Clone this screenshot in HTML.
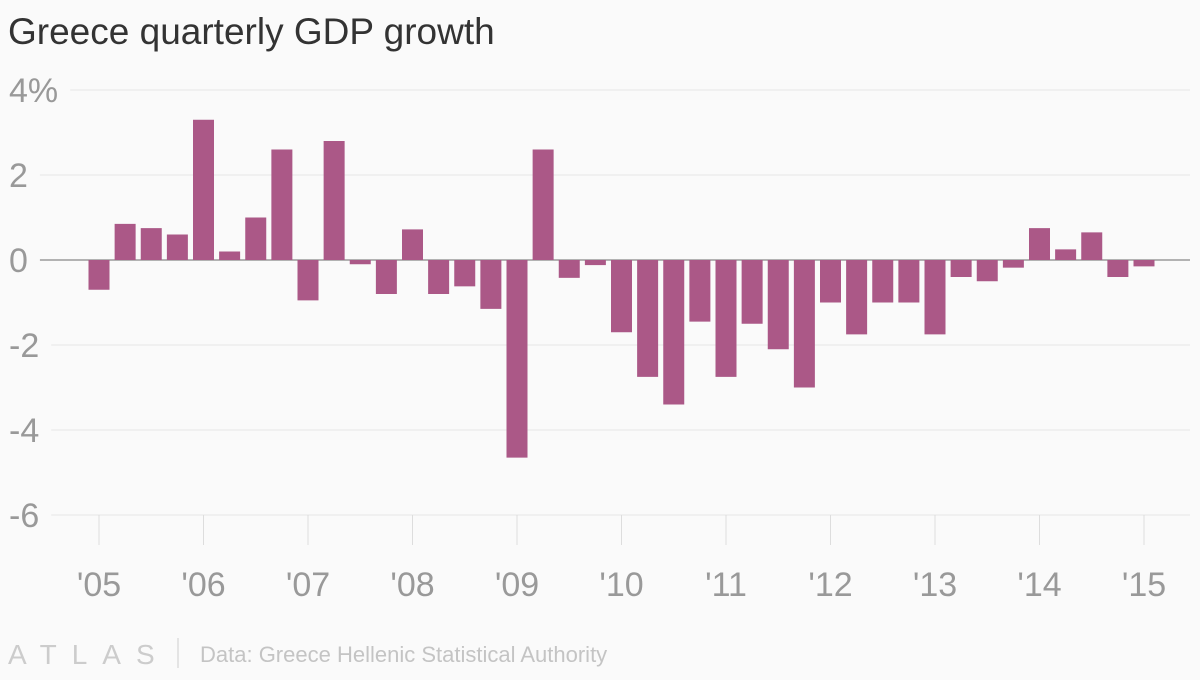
<!DOCTYPE html>
<html><head><meta charset="utf-8"><style>
body{margin:0;background:#fafafa;width:1200px;height:675px;overflow:hidden;font-family:"Liberation Sans",sans-serif}
</style></head><body>
<svg id="c" width="1200" height="675" xmlns="http://www.w3.org/2000/svg">
<text x="8" y="44" font-size="37" fill="#333">Greece quarterly GDP growth</text>
<g id="grid"></g><g id="bars"></g><g id="xaxis"></g>
<text x="8" y="664" font-size="28" fill="#ccc" letter-spacing="15">ATLAS</text>
<line x1="178" y1="638" x2="178" y2="668" stroke="#ddd" stroke-width="1.5"/>
<text x="200" y="662" font-size="22" fill="#c4c4c4">Data: Greece Hellenic Statistical Authority</text>
</svg>
<script>
const years=["'05","'06","'07","'08","'09","'10","'11","'12","'13","'14","'15"];
const yTicks=[4,2,0,-2,-4,-6];
const yTickLabels=["4%","2","0","-2","-4","-6"];
const values=[-0.7,0.85,0.75,0.6, 3.3,0.2,1.0,2.6, -0.95,2.8,-0.1,-0.8, 0.72,-0.8,-0.62,-1.15,
 -4.65,2.6,-0.42,-0.12, -1.7,-2.75,-3.4,-1.45, -2.75,-1.5,-2.1,-3.0, -1.0,-1.75,-1.0,-1.0,
 -1.75,-0.4,-0.5,-0.18, 0.75,0.25,0.65,-0.4, -0.15];
const NS="http://www.w3.org/2000/svg";
const y=v=>260-v*42.5;
const x=q=>99+q*26.125;
function mk(t,a,p){const e=document.createElementNS(NS,t);for(const k in a)e.setAttribute(k,a[k]);p.appendChild(e);return e;}
const grid=document.getElementById('grid'),bars=document.getElementById('bars'),xa=document.getElementById('xaxis');
yTicks.forEach((v,i)=>{
 const t=mk('text',{x:9,y:y(v)+12,'font-size':34,fill:'#999'},grid);t.textContent=yTickLabels[i];
 
 
 const w=t.getComputedTextLength();
 const l=mk('line',{x1:9+w+12,x2:1190,y1:y(v),y2:y(v),stroke:v===0?'#999':'#e6e6e6','stroke-width':v===0?1.5:1},grid);
 
 
});
years.forEach((s,i)=>{
 const cx=x(i*4);
 const l=mk('line',{x1:cx,x2:cx,y1:515,y2:545,stroke:'#ddd','stroke-width':1},xa);
 
 
 const t=mk('text',{x:cx,y:596,'font-size':34,fill:'#999','text-anchor':'middle'},xa);t.textContent=s;
 
 
});
values.forEach((v,i)=>{
 const r=mk('rect',{x:x(i)-10.5,width:21,y:Math.min(y(v),y(0)),height:Math.abs(y(v)-y(0)),fill:'#ab5887'},bars);
 
 
});
</script>
</body></html>
